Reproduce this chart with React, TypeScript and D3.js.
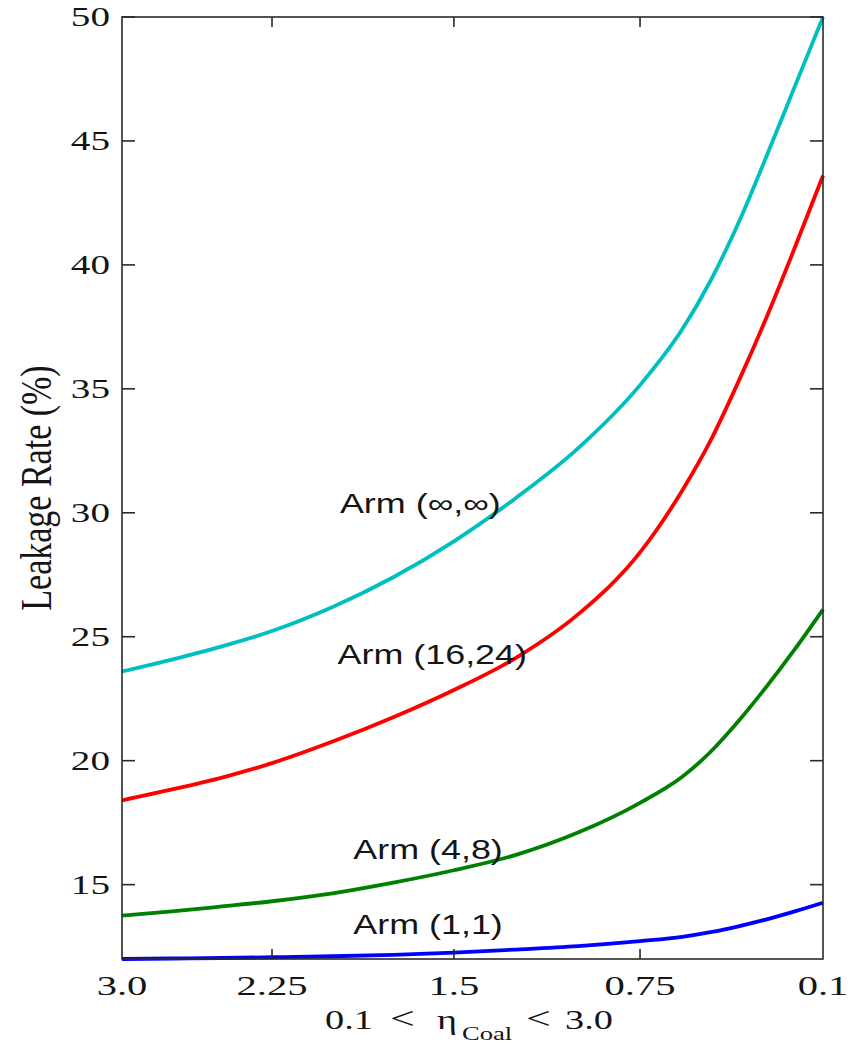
import React from "react";
import * as d3 from "d3";

// η_Coal sample points (axis runs from 3.0 down to 0.1)
const ETA = [3.0, 2.75, 2.5, 2.25, 2.0, 1.75, 1.5, 1.25, 1.0, 0.75, 0.6, 0.5, 0.4, 0.3, 0.2, 0.1];

const ARM_INF = [23.6, 24.08, 24.61, 25.23, 26.2, 27.4, 28.85, 30.6, 32.6, 35.15, 37.4, 39.35, 41.7, 44.4, 47.2, 50.0];
const ARM_16_24 = [18.4, 18.84, 19.32, 19.9, 20.77, 21.75, 22.85, 24.15, 25.9, 28.4, 30.9, 32.9, 35.3, 37.9, 40.7, 43.6];
const ARM_4_8 = [13.75, 13.92, 14.12, 14.33, 14.65, 15.08, 15.58, 16.2, 17.1, 18.3, 19.35, 20.35, 21.6, 23.0, 24.5, 26.1];
const ARM_1_1 = [12.0, 12.02, 12.04, 12.07, 12.11, 12.17, 12.26, 12.38, 12.52, 12.72, 12.89, 13.08, 13.32, 13.6, 13.92, 14.27];

const X_TICKS = [3.0, 2.25, 1.5, 0.75, 0.1];
const X_TICK_LABELS = ["3.0", "2.25", "1.5", "0.75", "0.1"];
const Y_TICKS = [15, 20, 25, 30, 35, 40, 45, 50];
const Y_DOMAIN = [12, 50];

const SERIES = [
  { name: "Arm (∞,∞)", values: ARM_INF, color: "#00BFBF" },
  { name: "Arm (16,24)", values: ARM_16_24, color: "#FF0000" },
  { name: "Arm (4,8)", values: ARM_4_8, color: "#008000" },
  { name: "Arm (1,1)", values: ARM_1_1, color: "#0000FF" },
];

const LABELS = [
  { text: "Arm (∞,∞)", eta: 1.97, value: 30.0 },
  { text: "Arm (16,24)", eta: 1.98, value: 23.9 },
  { text: "Arm (4,8)", eta: 1.915, value: 16.05 },
  { text: "Arm (1,1)", eta: 1.915, value: 13.0 },
];

export default function App() {
  const W = 859;
  const H = 1047;
  const left = 122;
  const right = 823;
  const top = 17;
  const bottom = 959;
  const pw = right - left;

  // piecewise-linear x scale matching the reference's tick spacing
  const x = d3
    .scaleLinear()
    .domain(X_TICKS)
    .range([left, left + pw * 0.214, left + pw * 0.4735, left + pw * 0.739, right]);
  const y = d3.scaleLinear().domain(Y_DOMAIN).range([bottom, top]);

  const line = d3
    .line<number>()
    .x((_, i) => x(ETA[i]))
    .y((d) => y(d))
    .curve(d3.curveMonotoneX);

  const axisColor = "#2a2a2a";
  const textColor = "#151515";
  const serif = "'Liberation Serif', 'Times New Roman', serif";
  const sans = "'Liberation Sans', Arial, sans-serif";

  return (
    <svg
      width={W}
      height={H}
      viewBox={`0 0 ${W} ${H}`}
      style={{ position: "absolute", left: 0, top: 0, background: "#fff" }}
    >
      <rect x={0} y={0} width={W} height={H} fill="#fff" />
      <defs>
        <clipPath id="plot">
          <rect x={left} y={top - 2} width={pw + 2} height={bottom - top + 4} />
        </clipPath>
      </defs>

      {/* curves */}
      <g clipPath="url(#plot)">
        {SERIES.map((s) => (
          <path
            key={s.name}
            d={line(s.values) || ""}
            fill="none"
            stroke={s.color}
            strokeWidth={3.8}
            strokeLinejoin="round"
          />
        ))}
      </g>

      {/* frame */}
      <rect
        x={left}
        y={top}
        width={pw}
        height={bottom - top}
        fill="none"
        stroke={axisColor}
        strokeWidth={1.6}
      />

      {/* y ticks (inward, both sides) */}
      {Y_TICKS.map((t) => (
        <g key={`y${t}`}>
          <line x1={left} x2={left + 13} y1={y(t)} y2={y(t)} stroke={axisColor} strokeWidth={1.6} />
          <line x1={right - 13} x2={right} y1={y(t)} y2={y(t)} stroke={axisColor} strokeWidth={1.6} />
          <text
            transform={`translate(${left - 12},${y(t) + 9}) scale(1.45,1)`}
            textAnchor="end"
            fontFamily={serif}
            fontSize={27}
            fill={textColor}
          >
            {t}
          </text>
        </g>
      ))}

      {/* x ticks (inward, top and bottom) */}
      {X_TICKS.map((t, i) => (
        <g key={`x${t}`}>
          {i > 0 && i < X_TICKS.length - 1 && (
            <>
              <line x1={x(t)} x2={x(t)} y1={bottom} y2={bottom - 10} stroke={axisColor} strokeWidth={1.6} />
              <line x1={x(t)} x2={x(t)} y1={top} y2={top + 10} stroke={axisColor} strokeWidth={1.6} />
            </>
          )}
          <text
            transform={`translate(${x(t)},${bottom + 36}) scale(1.45,1)`}
            textAnchor="middle"
            fontFamily={serif}
            fontSize={28}
            fill={textColor}
          >
            {X_TICK_LABELS[i]}
          </text>
        </g>
      ))}

      {/* curve labels */}
      {LABELS.map((l) => (
        <text
          key={l.text}
          transform={`translate(${x(l.eta)},${y(l.value)}) scale(1.33,1)`}
          fontFamily={sans}
          fontSize={27}
          fill={textColor}
        >
          {l.text}
        </text>
      ))}

      {/* y axis title */}
      <text
        transform={`translate(51,488) scale(1.3,1) rotate(-90)`}
        textAnchor="middle"
        fontFamily={serif}
        fontSize={34}
        fill={textColor}
      >
        Leakage Rate (%)
      </text>

      {/* x axis title: 0.1 < η_Coal < 3.0 */}
      <g fontFamily={serif} fill={textColor}>
        <text transform="translate(325,1029) scale(1.42,1)" fontSize={27}>0.1</text>
        <text transform="translate(390,1029) scale(1.42,1)" fontSize={31}>&lt;</text>
        <text transform="translate(437,1029) scale(1.42,1)" fontSize={27}>η</text>
        <text transform="translate(462,1040) scale(1.4,1)" fontSize={19}>Coal</text>
        <text transform="translate(526,1029) scale(1.42,1)" fontSize={31}>&lt;</text>
        <text transform="translate(565,1029) scale(1.42,1)" fontSize={27}>3.0</text>
      </g>
    </svg>
  );
}
